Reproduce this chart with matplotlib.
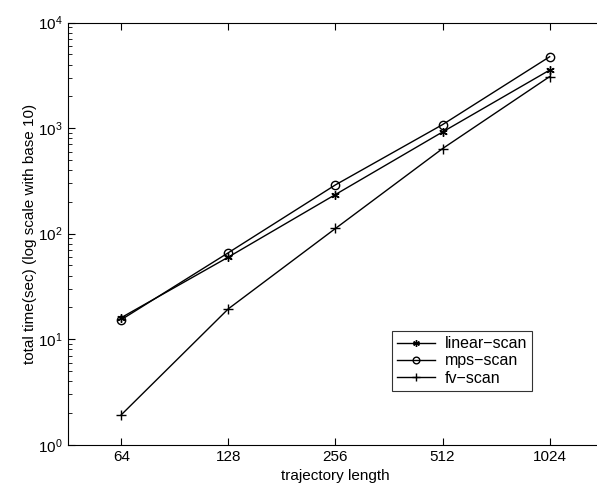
import numpy as np
import matplotlib.pyplot as plt
from matplotlib.ticker import LogLocator, FixedLocator, NullFormatter

plt.rcParams['font.family'] = ['Liberation Sans', 'DejaVu Sans']
plt.rcParams['mathtext.fontset'] = 'custom'
plt.rcParams['mathtext.rm'] = 'Liberation Sans'

# trajectory lengths and total times (sec)
lengths = [64, 128, 256, 512, 1024]
linear_scan = [16, 60, 235, 920, 3550]
mps_scan = [15.3, 66, 290, 1080, 4750]
fv_scan = [1.92, 19.4, 112, 640, 3080]

fig = plt.figure(figsize=(5.97, 4.96), dpi=100)
# axes run past the right edge of the figure, as in the original
ax = fig.add_axes([0.1134, 0.1034, 0.897, 0.851])

ax.plot(lengths, linear_scan, 'k-', marker=(6, 2, 0), markersize=6, lw=1, label='linear\u2212scan')
ax.plot(lengths, mps_scan, 'k-', marker='o', markerfacecolor='none', markersize=6, lw=1, label='mps\u2212scan')
ax.plot(lengths, fv_scan, 'k-', marker='+', markersize=7, lw=1, label='fv\u2212scan')

ax.set_xscale('log', base=2)
ax.set_yscale('log')
ax.set_xlim(64 / np.sqrt(2), 1024 * np.sqrt(2))
ax.set_ylim(1, 1e4)
ax.xaxis.set_major_locator(FixedLocator(lengths))
ax.set_xticklabels([str(v) for v in lengths])
ax.xaxis.set_minor_locator(FixedLocator([]))
ax.yaxis.set_major_locator(LogLocator(base=10, numticks=10))
ax.yaxis.set_minor_locator(LogLocator(base=10, subs=np.arange(2, 10), numticks=10))
ax.yaxis.set_minor_formatter(NullFormatter())
ax.tick_params(which='both', direction='in', top=True, right=False, labelsize=11)
ax.tick_params(which='major', length=5)
ax.tick_params(which='minor', length=3)

ax.set_xlabel('trajectory length', fontsize=11)
ax.set_ylabel('total time(sec) (log scale with base 10)', fontsize=11, labelpad=1)

leg = ax.legend(loc='lower right', bbox_to_anchor=(0.867, 0.128), fancybox=False, edgecolor='black',
                fontsize=11.5, handlelength=2.4, borderpad=0.3, labelspacing=0.15,
                handletextpad=0.6, markerscale=0.8, borderaxespad=0)
leg.get_frame().set_linewidth(0.8)

fig.savefig('out.png', dpi=100)
